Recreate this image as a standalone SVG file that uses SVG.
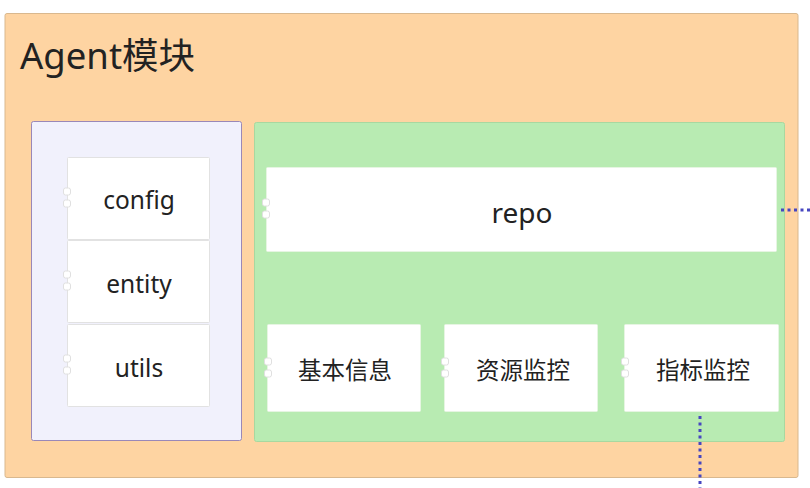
<svg xmlns="http://www.w3.org/2000/svg" width="810" height="488" viewBox="0 0 810 488">
<defs>
<style>
.txt{font-family:"Noto Sans","Open Sans","Noto Sans CJK SC",sans-serif;fill:#222;text-anchor:middle;dominant-baseline:central}
.cjk{font-family:"Noto Sans CJK SC","Noto Sans",sans-serif;fill:#222;text-anchor:middle;dominant-baseline:central}
.comp{fill:#ffffff;stroke:#e2e2e2;stroke-width:1}
.compg{fill:#ffffff;stroke:#e6f5e2;stroke-width:1}
.port{fill:#ffffff;stroke:#e0e0e0;stroke-width:1}
.link{fill:none;stroke:#4646c0;stroke-width:3;stroke-dasharray:3,3.5}
</style>
</defs>
<rect width="810" height="488" fill="#ffffff"/>
<g id="agent">
<rect x="5" y="13.5" width="793" height="464" rx="2" fill="#fed4a2" stroke="#d9b88e" stroke-width="1"/>
<text x="20" y="55" font-size="36.5" style="font-family:'Noto Sans','Noto Sans CJK SC',sans-serif;fill:#222;dominant-baseline:central">Agent模块</text>
</g>
<g id="left-group">
<rect x="31.5" y="121.5" width="210" height="319" rx="2" fill="#f1f1fc" stroke="#9a88b8" stroke-width="1"/>
</g>
<g id="right-group">
<rect x="254.5" y="122.5" width="530" height="319" rx="2" fill="#b8ebb2" stroke="#a8d8a0" stroke-width="1"/>
</g>
<g id="config">
<rect class="comp" x="67.5" y="157.5" width="142" height="82" rx="1"/>
<rect class="port" x="63.5" y="188" width="7" height="7" rx="2"/>
<rect class="port" x="63.5" y="200" width="7" height="7" rx="2"/>
<text class="txt" x="139" y="199" font-size="24.5">config</text>
</g>
<g id="entity">
<rect class="comp" x="67.5" y="240.5" width="142" height="82" rx="1"/>
<rect class="port" x="63.5" y="271" width="7" height="7" rx="2"/>
<rect class="port" x="63.5" y="283" width="7" height="7" rx="2"/>
<text class="txt" x="139" y="283" font-size="24.5">entity</text>
</g>
<g id="utils">
<rect class="comp" x="67.5" y="324.5" width="142" height="82" rx="1"/>
<rect class="port" x="63.5" y="355" width="7" height="7" rx="2"/>
<rect class="port" x="63.5" y="367" width="7" height="7" rx="2"/>
<text class="txt" x="139" y="367" font-size="24.5">utils</text>
</g>
<g id="repo">
<rect class="compg" x="266.5" y="167.5" width="510" height="84" rx="1"/>
<rect class="port" x="262.5" y="199" width="7" height="7" rx="2"/>
<rect class="port" x="262.5" y="211" width="7" height="7" rx="2"/>
<text class="txt" x="522" y="212" font-size="28">repo</text>
</g>
<g id="basic-info">
<rect class="compg" x="267.5" y="324.5" width="153" height="87" rx="1"/>
<rect class="port" x="264.5" y="358" width="7" height="7" rx="2"/>
<rect class="port" x="264.5" y="370" width="7" height="7" rx="2"/>
<text class="cjk" x="345" y="369" font-size="23.5">基本信息</text>
</g>
<g id="resource-monitor">
<rect class="compg" x="444.5" y="324.5" width="153" height="87" rx="1"/>
<rect class="port" x="441.5" y="358" width="7" height="7" rx="2"/>
<rect class="port" x="441.5" y="370" width="7" height="7" rx="2"/>
<text class="cjk" x="523" y="369" font-size="23.5">资源监控</text>
</g>
<g id="metric-monitor">
<rect class="compg" x="624.5" y="324.5" width="154" height="87" rx="1"/>
<rect class="port" x="621.5" y="358" width="7" height="7" rx="2"/>
<rect class="port" x="621.5" y="370" width="7" height="7" rx="2"/>
<text class="cjk" x="703" y="369" font-size="23.5">指标监控</text>
</g>
<g id="connectors">
<path class="link" d="M781 210 H810"/>
<path class="link" d="M700 416 V488"/>
</g>
</svg>
